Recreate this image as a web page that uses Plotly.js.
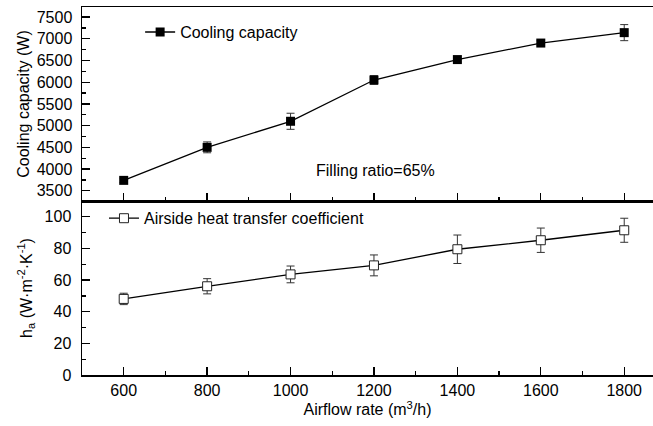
<!DOCTYPE html>
<html>
<head>
<meta charset="utf-8">
<script src="https://cdn.plot.ly/plotly-3.0.1.min.js"></script>
<style>
  html, body { margin: 0; padding: 0; background: #fff; }
  #chart { width: 653px; height: 426px; }
</style>
</head>
<body>
<div id="chart"></div>
<script>
// Airflow rate (m3/h)
const airflow = [600, 800, 1000, 1200, 1400, 1600, 1800];
// Cooling capacity (W) and its error
const coolingCapacity = [3740, 4500, 5100, 6050, 6520, 6900, 7140];
const coolingErr = [50, 125, 185, 100, 60, 60, 185];
// Airside heat transfer coefficient (W·m-2·K-1) and its error
const airsideCoef = [48.1, 56.1, 63.6, 69.3, 79.5, 85.2, 91.5];
const airsideErr = [3.6, 4.8, 5.3, 6.6, 9.0, 7.7, 7.6];

const FONT = 'Arial, "Liberation Sans", sans-serif';
const INK = '#000';
const FS = 16;

const traces = [
  {
    x: airflow, y: coolingCapacity, xaxis: 'x2', yaxis: 'y2',
    name: 'Cooling capacity', legend: 'legend',
    type: 'scatter', mode: 'lines+markers',
    line: { color: INK, width: 1.3 },
    marker: { symbol: 'square', size: 9, color: INK, line: { color: INK, width: 0 } },
    error_y: { type: 'data', array: coolingErr, visible: true, color: '#333', thickness: 1, width: 4 }
  },
  {
    x: airflow, y: airsideCoef, xaxis: 'x', yaxis: 'y',
    name: 'Airside heat transfer coefficient', legend: 'legend2',
    type: 'scatter', mode: 'lines+markers',
    line: { color: INK, width: 1.3 },
    marker: { symbol: 'square', size: 9, color: '#fff', line: { color: '#222', width: 1 } },
    error_y: { type: 'data', array: airsideErr, visible: true, color: '#333', thickness: 1, width: 4 }
  }
];

const axisCommon = {
  showline: true, linecolor: INK, linewidth: 1.5,
  ticks: 'inside', ticklen: 8, tickwidth: 1.3, tickcolor: INK,
  showgrid: false, zeroline: false,
  tickfont: { family: FONT, size: FS, color: INK }
};

const layout = {
  width: 653, height: 426,
  margin: { l: 82, r: 0, t: 7, b: 51 },
  paper_bgcolor: '#fff', plot_bgcolor: '#fff',
  font: { family: FONT, size: FS, color: INK },
  showlegend: true,
  xaxis: Object.assign({}, axisCommon, {
    range: [500, 1869], anchor: 'y', domain: [0, 1],
    tickvals: airflow, mirror: true,
    minor: { dtick: 100, ticklen: 4, tickwidth: 1.3, tickcolor: INK, ticks: 'inside' },
    ticklabelstandoff: 0,
    title: { text: 'Airflow rate (m<sup>3</sup>/h)', font: { family: FONT, size: FS, color: INK }, standoff: 6 }
  }),
  xaxis2: Object.assign({}, axisCommon, {
    range: [500, 1869], anchor: 'y2', matches: 'x', domain: [0, 1],
    tickvals: airflow, showticklabels: false, mirror: true,
    minor: { dtick: 100, ticklen: 4, tickwidth: 1.3, tickcolor: INK, ticks: 'inside' }
  }),
  yaxis: Object.assign({}, axisCommon, {
    range: [0, 110], domain: [0, 0.4728], anchor: 'x',
    dtick: 20, tick0: 0,
    minor: { dtick: 10, ticklen: 4, tickwidth: 1.3, tickcolor: INK, ticks: 'inside' },
    ticklabelstandoff: 6,
    title: { text: 'h<sub>a</sub> (W·m<sup>-2</sup>·K<sup>-1</sup>)', font: { family: FONT, size: FS, color: INK }, standoff: 8 }
  }),
  yaxis2: Object.assign({}, axisCommon, {
    range: [3265, 7730], domain: [0.4728, 1], anchor: 'x2',
    dtick: 500, tick0: 3500,
    minor: { dtick: 250, ticklen: 4, tickwidth: 1.3, tickcolor: INK, ticks: 'inside' },
    ticklabelstandoff: 5,
    title: { text: 'Cooling capacity (W)', font: { family: FONT, size: FS, color: INK }, standoff: 3 }
  }),
  legend: {
    x: 0.1018, y: 0.978, xanchor: 'left', yanchor: 'top',
    bgcolor: 'rgba(0,0,0,0)', borderwidth: 0,
    font: { family: FONT, size: FS, color: INK }
  },
  legend2: {
    x: 0.0385, y: 0.472, xanchor: 'left', yanchor: 'top',
    bgcolor: 'rgba(0,0,0,0)', borderwidth: 0,
    font: { family: FONT, size: FS, color: INK }
  },
  annotations: [
    {
      text: 'Filling ratio=65%', xref: 'paper', yref: 'paper',
      x: 0.407, y: 0.555, xanchor: 'left', yanchor: 'middle',
      showarrow: false, font: { family: FONT, size: FS, color: INK }
    }
  ]
};

Plotly.newPlot('chart', traces, layout, { staticPlot: true, displayModeBar: false });
</script>
</body>
</html>
